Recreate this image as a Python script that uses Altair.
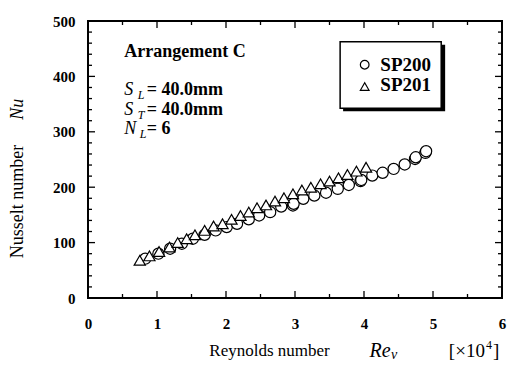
import altair as alt
import pandas as pd

F = "Liberation Serif"

# ---- data ----
re_sp200 = [0.83, 1.02, 1.19, 1.36, 1.52, 1.69, 1.85, 2.01, 2.16, 2.33, 2.48, 2.64, 2.80, 2.97, 2.98,
            3.12, 3.28, 3.45, 3.62, 3.78, 3.95, 3.96, 4.12, 4.27, 4.43, 4.59, 4.74, 4.75, 4.89, 4.90]
nu_sp200 = [71, 80, 89, 98, 107, 114, 122, 128, 134, 142, 149, 155, 165, 167, 170,
            179, 185, 190, 197, 204, 211, 213, 221, 226, 233, 241, 251, 254, 262, 265]
re_sp201 = [0.75, 0.89, 1.03, 1.18, 1.30, 1.43, 1.55, 1.69, 1.82, 1.95, 2.08, 2.21, 2.33,
            2.45, 2.58, 2.71, 2.84, 2.97, 3.10, 3.23, 3.37, 3.50, 3.63, 3.76, 3.89, 4.03]
nu_sp201 = [68, 76, 84, 92, 100, 107, 114, 122, 130, 134, 142, 149, 155,
            163, 168, 175, 181, 188, 195, 200, 206, 211, 217, 223, 229, 236]
series_names = ["SP200", "SP201"]
series_shapes = ["circle", "triangle-up"]

x_major = [0, 1, 2, 3, 4, 5, 6]
x_minor = [0.5, 1.5, 2.5, 3.5, 4.5, 5.5]
y_major = [0, 100, 200, 300, 400, 500]
y_minor = [v for v in range(20, 500, 20) if v % 100 != 0]

# annotation texts (positions in data units)
bold_texts = ["Arrangement C", "= 40.0mm", "= 40.0mm", "= 6"]
bold_x = [0.526, 0.853, 0.853, 0.853]
bold_y = [435.5, 365.6, 331.0, 295.7]
ital_texts = ["S", "S", "N"]
ital_x = [0.526, 0.526, 0.526]
ital_y = [365.6, 331.0, 295.7]
sub_texts = ["L", "T", "L"]
sub_x = [0.72, 0.72, 0.75]
sub_y = [358.5, 324.0, 288.6]

# legend box (data units)
leg_box = dict(x=3.654, x2=5.119, y=462.4, y2=342.3)
leg_shadow = dict(x=3.697, x2=5.176, y=457.0, y2=336.9)
leg_sym_x = [4.01, 4.01]
leg_sym_y = [421.1, 381.7]
leg_lab_x = [4.237, 4.237]
leg_lab_y = [410.4, 372.8]

X0, X1, Y0, Y1 = 0, 6, 0, 500
W, H = 414, 277
MAJ, MIN, TW = 7, 4, 1.3   # tick lengths and thickness in px

df = pd.DataFrame({
    "Re": re_sp200 + re_sp201,
    "Nu": nu_sp200 + nu_sp201,
    "series": [series_names[0]] * len(re_sp200) + [series_names[1]] * len(re_sp201),
})

# inward ticks on all four sides, as thin filled rectangles
dx = (X1 - X0) / W
dy = (Y1 - Y0) / H
hx, hy = TW * dx / 2, TW * dy / 2
rows = []
for vals, L in ((x_major, MAJ), (x_minor, MIN)):
    for v in vals:
        rows.append(dict(x=v - hx, x2=v + hx, y=Y0, y2=Y0 + L * dy))
        rows.append(dict(x=v - hx, x2=v + hx, y=Y1, y2=Y1 - L * dy))
for vals, L in ((y_major, MAJ), (y_minor, MIN)):
    for v in vals:
        rows.append(dict(x=X0, x2=X0 + L * dx, y=v - hy, y2=v + hy))
        rows.append(dict(x=X1, x2=X1 - L * dx, y=v - hy, y2=v + hy))
ticks_df = pd.DataFrame(rows)

xs = alt.Scale(domain=[X0, X1], nice=False, zero=False)
ys = alt.Scale(domain=[Y0, Y1], nice=False, zero=False)
shape_scale = alt.Scale(domain=series_names, range=series_shapes)

x_bottom = alt.Axis(orient="bottom", values=x_major, ticks=False, domain=False, grid=False,
                    labelFont=F, labelColor="black", labelFlush=False,
                    labelFontSize=15, labelFontWeight="bold", labelPadding=18,
                    title="Reynolds number", titleFont=F, titleFontSize=17,
                    titleFontWeight="normal", titleColor="black", titleX=181, titleY=57,
                    titleBaseline="alphabetic", titleAlign="center")
y_left = alt.Axis(orient="left", values=y_major, ticks=False, domain=False, grid=False,
                  labelFont=F, labelColor="black", labelFlush=False,
                  labelFontSize=15, labelFontWeight="bold", labelPadding=13,
                  title="Nusselt number", titleFont=F, titleFontSize=18,
                  titleFontWeight="normal", titleColor="black", titleX=-66, titleY=180,
                  titleBaseline="alphabetic", titleAlign="center", titleAngle=270)


def X(f):
    return alt.X(f, scale=xs, axis=x_bottom)


def Y(f):
    return alt.Y(f, scale=ys, axis=y_left)


def rect_layer(data, **mk):
    return alt.Chart(data).mark_rect(**mk).encode(
        x=X("x:Q"), x2="x2:Q", y=Y("y:Q"), y2="y2:Q")


points = alt.Chart(df).mark_point(fill="white", stroke="black", strokeWidth=1.2,
                                  opacity=1, filled=True, size=125).encode(
    x=X("Re:Q"), y=Y("Nu:Q"),
    shape=alt.Shape("series:N", scale=shape_scale, legend=None),
)


def text_layer(t, x, y, **mk):
    d = pd.DataFrame({"t": t, "x": x, "y": y})
    return alt.Chart(d).mark_text(font=F, color="black", baseline="alphabetic", **mk).encode(
        x=X("x:Q"), y=Y("y:Q"), text="t:N")


bold_layer = text_layer(bold_texts, bold_x, bold_y, fontSize=18, fontWeight="bold", align="left")
ital_layer = text_layer(ital_texts, ital_x, ital_y, fontSize=18, fontStyle="italic", align="left")
sub_layer = text_layer(sub_texts, sub_x, sub_y, fontSize=12, fontStyle="italic", align="left")
nu_layer = text_layer(["Nu"], [-0.938], [340.5], fontSize=18, fontStyle="italic", angle=270,
                      align="center")
re_layer = text_layer(["Re"], [4.08], [-106.0], fontSize=20, fontStyle="italic", align="left")
nusub_layer = text_layer(["ν"], [4.39], [-110.5], fontSize=14, fontStyle="italic", align="left")
unit_layer = text_layer(["[×10", "]"], [5.23, 5.87], [-106.0, -106.0], fontSize=19, align="left")
sup_layer = text_layer(["4"], [5.768], [-91.5], fontSize=12, align="left")

# legend, drawn in the plot's own data units
shadow = rect_layer(pd.DataFrame([leg_shadow]), color="black")
box = rect_layer(pd.DataFrame([leg_box]), fill="white", stroke="black", strokeWidth=1.5)
leg_df = pd.DataFrame({"series": series_names, "x": leg_sym_x, "y": leg_sym_y})
leg_syms = alt.Chart(leg_df).mark_point(fill="white", stroke="black", strokeWidth=1.2,
                                        opacity=1, filled=True, size=75).encode(
    x=X("x:Q"), y=Y("y:Q"),
    shape=alt.Shape("series:N", scale=shape_scale, legend=None))
leg_labels = text_layer(series_names, leg_lab_x, leg_lab_y, fontSize=19, fontWeight="bold",
                        align="left")

# frame and inward ticks drawn last, on top of everything
ticks = rect_layer(ticks_df, fill="black", strokeWidth=0)
ticks_rule = alt.Chart(ticks_df).mark_rule(color="black", strokeWidth=TW).encode(
    x=X("x:Q"), y=Y("y:Q"), x2="x2:Q", y2="y2:Q")
frame = rect_layer(pd.DataFrame([dict(x=X0, x2=X1, y=Y0, y2=Y1)]), fill="transparent",
                   stroke="black", strokeWidth=1.8)

chart = alt.layer(
    points, bold_layer, ital_layer, sub_layer,
    nu_layer, re_layer, nusub_layer, unit_layer, sup_layer,
    shadow, box, leg_syms, leg_labels, ticks, frame
).properties(
    width=W, height=H,
    autosize=alt.AutoSizeParams(type="none"),
    padding={"left": 80, "top": 13, "right": 5, "bottom": 63},
).configure_view(stroke="black", strokeWidth=1.8)

chart.save("out.html", embed_options={"renderer": "svg", "actions": False})
